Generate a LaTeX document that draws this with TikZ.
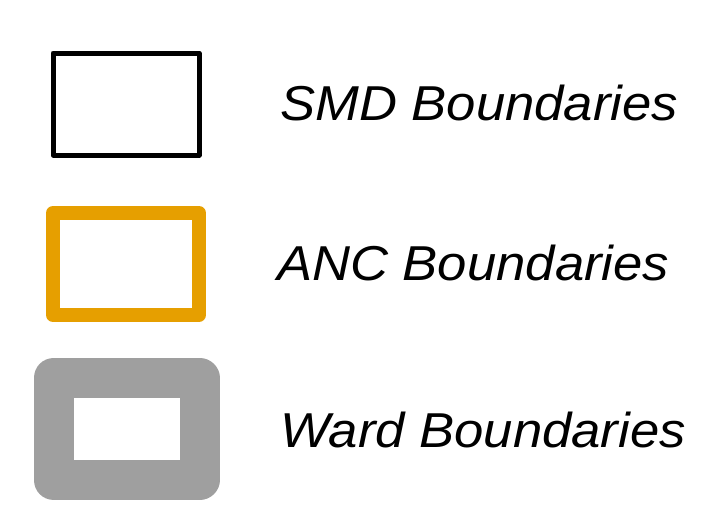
\documentclass[tikz,border=0pt]{standalone}
\usepackage{fontspec}
\setmainfont{Liberation Sans}
\newfontfamily\legfont[FakeStretch=1.074]{Liberation Sans}
\definecolor{ancorange}{HTML}{E69F00}
\definecolor{wardgray}{HTML}{9F9F9F}
\tikzset{
  legbox/.style={rectangle,inner sep=0pt,minimum width=146pt,minimum height=102pt,line join=round},
  smd/.style={legbox,draw=black,line width=5pt},
  anc/.style={legbox,draw=ancorange,line width=14pt},
  ward/.style={legbox,draw=wardgray,line width=40pt},
  legtext/.style={anchor=base west,inner sep=0pt,font=\legfont\fontsize{49}{58}\selectfont\itshape}
}
\begin{document}
\begin{tikzpicture}[x=1pt,y=-1pt]
\useasboundingbox (0,0) rectangle (716,517);
\node [smd] (smdbox) at (126,104) {};
\node [anc] (ancbox) at (126,264) {};
\node [ward] (wardbox) at (126.5,429) {};
\node [legtext] (smdtext) at (280,120) {SMD Boundaries};
\node [legtext] (anctext) at (277,280) {ANC Boundaries};
\node [legtext] (wardtext) at (280,447) {Ward Boundaries};
\end{tikzpicture}
\end{document}
